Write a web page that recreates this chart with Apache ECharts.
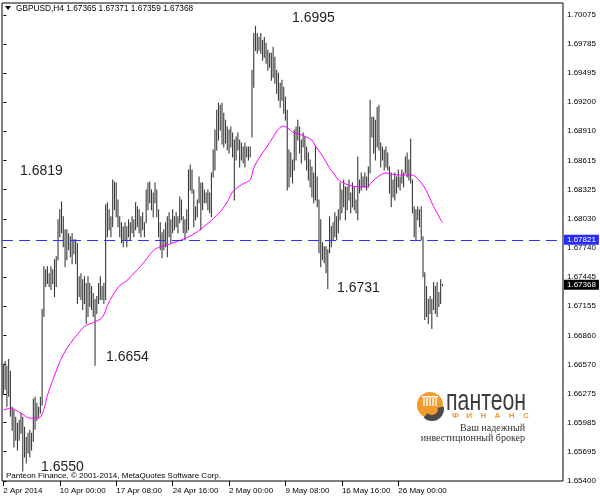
<!DOCTYPE html>
<html><head><meta charset="utf-8">
<script src="https://cdn.jsdelivr.net/npm/echarts@6/dist/echarts.min.js"></script>
<style>html,body{margin:0;padding:0;background:#fff}#c{width:600px;height:499px}</style>
</head><body><div id="c"></div>
<script>
// ---- data (H4 bars) ----
const highs = [
1.6657,1.6660,1.6655,1.6662,1.6650, 1.6614,1.6611,1.6604,1.6598,1.6601,
1.6608,1.6604,1.6594,1.6584,1.6588, 1.6591,1.6588,1.6622,1.6624,1.6618,
1.6614,1.6624,1.6712,1.6755,1.6752, 1.6755,1.6748,1.6755,1.6752,1.6762,
1.6765,1.6802,1.6812,1.6820,1.6805, 1.6792,1.6792,1.6788,1.6785,1.6788,
1.6782,1.6782,1.6778,1.6745,1.6748, 1.6742,1.6745,1.6738,1.6745,1.6738,
1.6735,1.6728,1.6722,1.6725,1.6738, 1.6745,1.6735,1.6738,1.6817,1.6819,
1.6812,1.6805,1.6842,1.6840,1.6839, 1.6822,1.6805,1.6799,1.6795,1.6799,
1.6795,1.6802,1.6799,1.6805,1.6802, 1.6819,1.6815,1.6812,1.6805,1.6809,
1.6799,1.6832,1.6839,1.6840,1.6832, 1.6829,1.6839,1.6832,1.6812,1.6799,
1.6789,1.6792,1.6799,1.6805,1.6809, 1.6802,1.6812,1.6805,1.6809,1.6805,
1.6825,1.6822,1.6805,1.6802,1.6812, 1.6852,1.6857,1.6852,1.6832,1.6815,
1.6822,1.6845,1.6839,1.6839,1.6832, 1.6829,1.6832,1.6829,1.6849,1.6872,
1.6892,1.6912,1.6919,1.6917,1.6919, 1.6909,1.6902,1.6895,1.6892,1.6895,
1.6889,1.6882,1.6885,1.6889,1.6882, 1.6879,1.6875,1.6879,1.6875,1.6875,
1.6875,1.6952,1.6989,1.6996,1.6989, 1.6985,1.6989,1.6982,1.6985,1.6979,
1.6972,1.6969,1.6969,1.6975,1.6965, 1.6952,1.6949,1.6939,1.6942,1.6935,
1.6925,1.6912,1.6872,1.6869,1.6862, 1.6892,1.6895,1.6902,1.6895,1.6882,
1.6889,1.6885,1.6875,1.6869,1.6862, 1.6855,1.6849,1.6875,1.6845,1.6822,
1.6802,1.6779,1.6775,1.6775,1.6772, 1.6805,1.6795,1.6799,1.6809,1.6805,
1.6812,1.6839,1.6832,1.6842,1.6835, 1.6835,1.6842,1.6829,1.6839,1.6835,
1.6822,1.6865,1.6842,1.6849,1.6845, 1.6849,1.6845,1.6855,1.6922,1.6905,
1.6905,1.6902,1.6915,1.6917,1.6879, 1.6875,1.6872,1.6875,1.6869,1.6855,
1.6849,1.6842,1.6849,1.6845,1.6852, 1.6845,1.6852,1.6849,1.6865,1.6869,
1.6862,1.6883,1.6842,1.6815,1.6812, 1.6815,1.6812,1.6815,1.6785,1.6749,
1.6735,1.6722,1.6725,1.6722,1.6739, 1.6735,1.6739,1.6729,1.6742,1.67371
];
const lows = [
1.6627,1.6632,1.6615,1.6625,1.6605, 1.6591,1.6574,1.6581,1.6571,1.6581,
1.6588,1.6550,1.6564,1.6558,1.6568, 1.6564,1.6571,1.6580,1.6592,1.6601,
1.6604,1.6608,1.6616,1.6705,1.6735, 1.6738,1.6735,1.6732,1.6738,1.6725,
1.6735,1.6762,1.6785,1.6789,1.6775, 1.6755,1.6762,1.6772,1.6765,1.6758,
1.6768,1.6758,1.6718,1.6725,1.6722, 1.6712,1.6718,1.6698,1.6705,1.6715,
1.6712,1.6705,1.6656,1.6708,1.6718, 1.6722,1.6722,1.6718,1.6722,1.6785,
1.6792,1.6785,1.6795,1.6812,1.6805, 1.6795,1.6785,1.6779,1.6775,1.6782,
1.6775,1.6785,1.6782,1.6789,1.6785, 1.6792,1.6795,1.6789,1.6785,1.6792,
1.6785,1.6799,1.6812,1.6819,1.6812, 1.6805,1.6819,1.6805,1.6785,1.6772,
1.6764,1.6772,1.6775,1.6765,1.6785, 1.6779,1.6789,1.6792,1.6795,1.6789,
1.6799,1.6802,1.6789,1.6782,1.6789, 1.6792,1.6832,1.6829,1.6795,1.6802,
1.6805,1.6819,1.6792,1.6812,1.6819, 1.6819,1.6812,1.6809,1.6805,1.6845,
1.6852,1.6872,1.6882,1.6892,1.6878, 1.6875,1.6879,1.6872,1.6869,1.6875,
1.6865,1.6822,1.6862,1.6872,1.6855, 1.6862,1.6859,1.6855,1.6865,1.6862,
1.6865,1.6885,1.6935,1.6972,1.6969, 1.6972,1.6969,1.6962,1.6965,1.6959,
1.6952,1.6955,1.6942,1.6945,1.6939, 1.6929,1.6922,1.6915,1.6922,1.6909,
1.6902,1.6832,1.6835,1.6845,1.6839, 1.6852,1.6862,1.6882,1.6869,1.6859,
1.6875,1.6862,1.6852,1.6842,1.6835, 1.6825,1.6819,1.6822,1.6815,1.6769,
1.6755,1.6762,1.6759,1.6749,1.6733, 1.6769,1.6775,1.6782,1.6785,1.6782,
1.6789,1.6802,1.6809,1.6815,1.6802, 1.6812,1.6822,1.6809,1.6815,1.6812,
1.6809,1.6802,1.6829,1.6832,1.6835, 1.6835,1.6832,1.6835,1.6849,1.6885,
1.6869,1.6862,1.6875,1.6872,1.6855, 1.6862,1.6852,1.6855,1.6852,1.6829,
1.6815,1.6825,1.6822,1.6829,1.6835, 1.6832,1.6839,1.6835,1.6849,1.6845,
1.6842,1.6839,1.6809,1.6785,1.6782, 1.6802,1.6795,1.6782,1.6745,1.6702,
1.6705,1.6698,1.6708,1.6693,1.6712, 1.6708,1.6705,1.6715,1.6718,1.67359
];
// moving average, read at selected bars
const maBars = [0,4,10,15,20,23,25,28,31,34,38,42,46,51,56,59,62,66,70,76,80,85,89,93,98,104,110,115,119,123,127,130,134,137,140,142,145,149,153,156,159,162,164,168,172,175,177,181,185,188,190,194,198,202,206,209,213,217,220,224,228,231,234,237,240,243,245,249];
const maValues = [1.6611,1.6613,1.6608,1.6603,1.6603,1.6612,1.6626,1.6641,1.6655,1.6667,1.6678,1.6687,1.6695,1.6699,1.6704,1.6716,1.6726,1.6736,1.6741,1.6752,1.6760,1.6771,1.6775,1.6777,1.6780,1.6784,1.6790,1.6797,1.6803,1.6810,1.6820,1.6830,1.6836,1.6839,1.6842,1.6854,1.6864,1.6874,1.6885,1.6893,1.6896,1.6893,1.6890,1.6888,1.6885,1.6882,1.6876,1.6866,1.6854,1.6847,1.6842,1.6838,1.6836,1.6835,1.6835,1.6840,1.6846,1.6849,1.6848,1.6847,1.6847,1.6847,1.6845,1.6839,1.6831,1.6819,1.6812,1.6799];
const xTickBars = [0,32,64,96,128,160,192,224];
const xTickLabels = ['2 Apr 2014','10 Apr 00:00','17 Apr 08:00','24 Apr 16:00','2 May 00:00','9 May 08:00','16 May 16:00','26 May 00:00'];
const yTicks = [1.70075,1.69785,1.69495,1.69200,1.68910,1.68615,1.68325,1.68030,1.67740,1.67445,1.67155,1.66860,1.66570,1.66275,1.65985,1.65695,1.65400];
const levelLine = 1.67821;
const lastPrice = 1.67368;
const headerText = 'GBPUSD,H4 1.67365 1.67371 1.67359 1.67368';
const copyrightText = 'Panteon Finance, \u00a9 2001-2014, MetaQuotes Software Corp.';
const noteTexts = ['1.6995','1.6819','1.6654','1.6731','1.6550'];

// ---- chart ----
const FONT = "'Liberation Sans', Arial, sans-serif";
const BLUE = '#3030ff';
const chart = echarts.init(document.getElementById('c'));
const notePos = [[292,18],[20,171],[106,357],[337,288],[41,467]];
const graphics = [];
noteTexts.forEach((t,k)=>graphics.push({type:'text', x:notePos[k][0], y:notePos[k][1], z:10,
  style:{text:t, font:'14px '+FONT, fill:'#1e1e1e', verticalAlign:'middle'}}));
graphics.push({type:'rect', shape:{x:3,y:4,width:196,height:11}, style:{fill:'#fff'}, z:9});
graphics.push({type:'polygon', shape:{points:[[5,6],[11,6],[8,10]]}, style:{fill:'#000'}, z:10});
graphics.push({type:'text', x:16, y:9, z:10, style:{text:headerText, font:'8.3px '+FONT, fill:'#000', verticalAlign:'middle'}});
graphics.push({type:'text', x:6, y:476, z:10, style:{text:copyrightText, font:'8px '+FONT, fill:'#000', verticalAlign:'middle'}});
// logo
graphics.push({type:'circle', shape:{cx:430, cy:405, r:13}, style:{fill:'#f29a2e'}, z:10});
graphics.push({type:'sector', shape:{cx:432, cy:409, r:12, r0:6, startAngle:-0.2, endAngle:Math.PI*0.75}, style:{fill:'#4b4b4b'}, z:11});
[424,427,430,433,436].forEach(cx=>graphics.push({type:'rect', shape:{x:cx-0.7, y:398, width:1.4, height:8}, style:{fill:'#fff'}, z:12}));
graphics.push({type:'rect', shape:{x:422, y:396, width:16, height:1.5}, style:{fill:'#fff'}, z:12});
graphics.push({type:'text', x:446, y:402, z:10, scaleX:0.71,
  style:{text:'пантеон', font:'30px '+FONT, fill:'#3c3c3c', verticalAlign:'middle'}});
['Ф','И','Н','А','Н','С'].forEach((ch,k)=>graphics.push({type:'text', x:452+k*14.2, y:416, z:10,
  style:{text:ch, font:'bold 8px '+FONT, fill:'#f29a2e', verticalAlign:'middle'}}));
graphics.push({type:'text', x:525, y:428, z:10, style:{text:'Ваш надежный', font:"10px 'Liberation Serif', serif", fill:'#333', textAlign:'right', verticalAlign:'middle'}});
graphics.push({type:'text', x:525, y:438.5, z:10, style:{text:'инвестиционный брокер', font:"10px 'Liberation Serif', serif", fill:'#333', textAlign:'right', verticalAlign:'middle'}});

const priceLabel = (bg)=>({show:true, position:'end', distance:1, formatter:p=>Number(p.value).toFixed(5),
  color:'#fff', backgroundColor:bg, padding:[1,3,1,3], fontSize:8, fontFamily:FONT});

const option = {
  animation:false,
  backgroundColor:'#fff',
  grid:{left:2, right:37, top:3, bottom:18, show:true, borderColor:'#000', borderWidth:1},
  xAxis:{type:'value', min:-0.77, max:317.4, splitLine:{show:false}, axisLine:{show:false},
    axisTick:{show:true, customValues:xTickBars, length:5, lineStyle:{color:'#000'}},
    axisLabel:{customValues:xTickBars, formatter:v=>xTickLabels[xTickBars.indexOf(Math.round(v))]||'', align:'left', margin:6, color:'#000', fontSize:8, fontFamily:FONT}},
  yAxis:{type:'value', position:'right', min:1.654, max:1.70195, scale:true, splitLine:{show:false}, axisLine:{show:false},
    axisTick:{show:true, customValues:yTicks, length:3, lineStyle:{color:'#000'}},
    axisLabel:{customValues:yTicks, formatter:v=>v.toFixed(5), margin:4, color:'#000', fontSize:8, fontFamily:FONT}},
  series:[
    {type:'custom', name:'GBPUSD', clip:true,
     data: highs.map((h,i)=>[i, lows[i], h]),
     encode:{x:0, y:[1,2]},
     renderItem:(params, api)=>{
       const i = api.value(0);
       const lo = api.coord([i, api.value(1)]);
       const hi = api.coord([i, api.value(2)]);
       return {type:'line', shape:{x1:lo[0], y1:lo[1]+0.5, x2:hi[0], y2:hi[1]-0.5}, style:{stroke:'#3a3a3a', lineWidth:1.1}};
     },
     markLine:{silent:true, symbol:'none', animation:false, precision:5,
       lineStyle:{color:'rgba(0,0,0,0)', width:0},
       data:[
         {yAxis:lastPrice, label:priceLabel('#000')},
         {yAxis:levelLine, label:priceLabel('#2a2aff')}
       ]}},
    {type:'line', name:'MA', data: maBars.map((b,k)=>[b, maValues[k]]), showSymbol:false, smooth:0.35, clip:false,
     lineStyle:{color:'#ff00ff', width:1}, z:3}
  ],
  graphic: graphics
};
chart.setOption(option);
// dashed level line placed through the chart's own scales
const yLvl = chart.convertToPixel({yAxisIndex:0}, levelLine);
const xL = chart.convertToPixel({xAxisIndex:0}, -0.77);
const xR = chart.convertToPixel({xAxisIndex:0}, 317.4);
chart.setOption({graphic: graphics.concat([{type:'line', z:8, silent:true,
  shape:{x1:xL, y1:Math.round(yLvl)+0.5, x2:xR, y2:Math.round(yLvl)+0.5},
  style:{stroke:BLUE, lineWidth:1, lineDash:[11,6]}}])});
</script>
</body></html>
